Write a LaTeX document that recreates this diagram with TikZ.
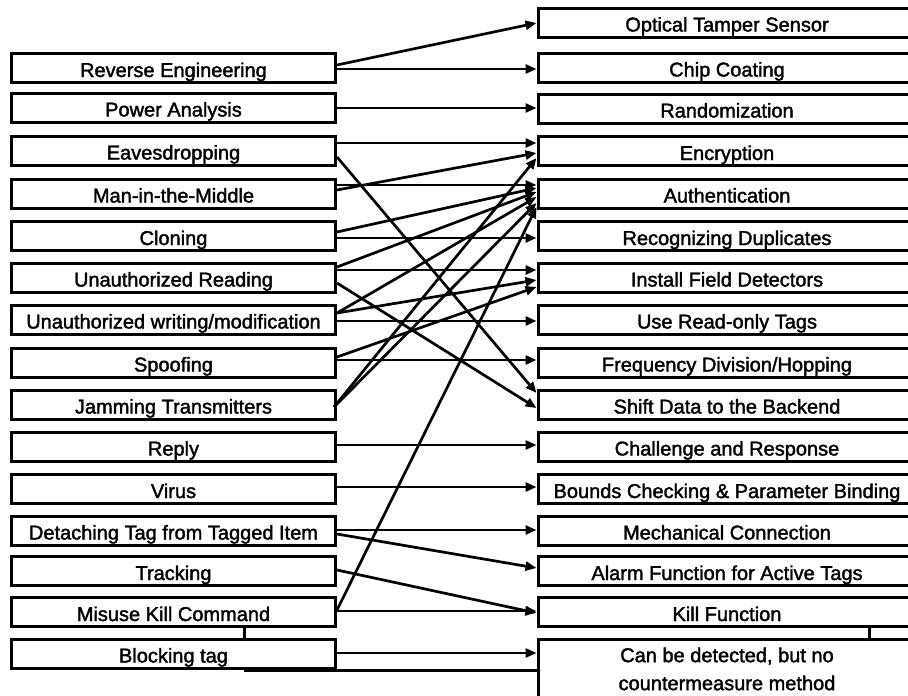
\documentclass[tikz,border=0pt]{standalone}
\usepackage{fontspec}
\setmainfont{Liberation Sans}
\newfontfamily\boxfont[UprightFeatures={FakeBold=1.8}]{Liberation Sans}
\usetikzlibrary{arrows.meta,calc}

\tikzset{
  boxtext/.style={font=\boxfont\fontsize{20}{24}\selectfont},
  threat/.style={draw, line width=3pt, minimum width=324pt, minimum height=29pt,
    inner sep=0pt, text height=18pt, text depth=0pt, boxtext},
  measure/.style={draw, line width=3pt, minimum width=378pt, minimum height=29pt,
    inner sep=0pt, text height=18pt, text depth=0pt, boxtext},
  link/.style={line width=2.7pt, -{Triangle[length=11pt,width=9pt]}},
  joint/.style={line width=2.3pt}
}

\begin{document}
\begin{tikzpicture}[x=1pt,y=-1pt]
\useasboundingbox (0,0) rectangle (908,696);

% attacks (left column)
\node[threat] (l1)  at (173.5,68)    {Reverse Engineering};
\node[threat] (l2)  at (173.5,107.5) {Power Analysis};
\node[threat] (l3)  at (173.5,150.5) {Eavesdropping};
\node[threat] (l4)  at (173.5,193.5) {Man-in-the-Middle};
\node[threat] (l5)  at (173.5,236)   {Cloning};
\node[threat] (l6)  at (173.5,277.5) {Unauthorized Reading};
\node[threat] (l7)  at (173.5,319.5) {Unauthorized writing/modification};
\node[threat] (l8)  at (173.5,362.5) {Spoofing};
\node[threat] (l9)  at (173.5,404.5) {Jamming Transmitters};
\node[threat] (l10) at (173.5,446.5) {Reply};
\node[threat] (l11) at (173.5,489)   {Virus};
\node[threat] (l12) at (173.5,530.5) {Detaching Tag from Tagged Item};
\node[threat] (l13) at (173.5,571)   {Tracking};
\node[threat] (l14) at (173.5,612)   {Misuse Kill Command};
\node[threat] (l15) at (173.5,653.5) {Blocking tag};

% countermeasures (right column)
\node[measure] (r1)  at (727,22.5)  {Optical Tamper Sensor};
\node[measure] (r2)  at (727,67.5)  {Chip Coating};
\node[measure] (r3)  at (727,108.5) {Randomization};
\node[measure] (r4)  at (727,151)   {Encryption};
\node[measure] (r5)  at (727,193.5) {Authentication};
\node[measure] (r6)  at (727,236)   {Recognizing Duplicates};
\node[measure] (r7)  at (727,277.5) {Install Field Detectors};
\node[measure] (r8)  at (727,319.5) {Use Read-only Tags};
\node[measure] (r9)  at (727,362.5) {Frequency Division/Hopping};
\node[measure] (r10) at (727,404.5) {Shift Data to the Backend};
\node[measure] (r11) at (727,446.5) {Challenge and Response};
\node[measure] (r12) at (727,489)   {Bounds Checking \& Parameter Binding};
\node[measure] (r13) at (727,530.5) {Mechanical Connection};
\node[measure] (r14) at (727,571)   {Alarm Function for Active Tags};
\node[measure] (r15) at (727,612)   {Kill Function};
\node[measure, minimum height=60pt, text height=, text depth=, align=center,
      font=\boxfont\fontsize{20}{28}\selectfont] (r16) at (727,669)
      {Can be detected, but no\\countermeasure method};

% connectors
\draw[link] ($(l1.east)+(0,-3)$)    -- ($(r1.west)+(0,0.5)$);
\draw[link] ($(l1.east)+(0,1)$)     -- ($(r2.west)+(0,1.5)$);
\draw[link] ($(l2.east)+(0,0.5)$)   -- ($(r3.west)+(0,-0.5)$);
\draw[link] ($(l3.east)+(0,-7.5)$)  -- ($(r4.west)+(0,-8)$);
\draw[link] ($(l3.east)+(0,6.5)$)   -- ($(r10.west)+(0,-11.5)$);
\draw[link] ($(l4.east)+(0,-8.5)$)  -- ($(r5.west)+(0,-8.5)$);
\draw[link] ($(l4.east)+(0,-3.5)$)  -- ($(r4.west)+(0,2)$);
\draw[link] ($(l5.east)+(0,-4)$)    -- ($(r5.west)+(0,-5.5)$);
\draw[link] ($(l5.east)+(0,2)$)     -- ($(r6.west)+(0,2)$);
\draw[link] ($(l6.east)+(0,-10.5)$) -- ($(r5.west)+(0,-1.5)$);
\draw[link] ($(l6.east)+(0,-7.5)$)  -- ($(r7.west)+(0,-7.5)$);
\draw[link] ($(l6.east)+(0,5.5)$)   -- ($(r10.west)+(0,3.5)$);
\draw[link] ($(l7.east)+(0,-6.5)$)  -- ($(r5.west)+(0,3.5)$);
\draw[link] ($(l7.east)+(0,-6.5)$)  -- ($(r7.west)+(0,2.5)$);
\draw[link] ($(l7.east)+(0,1.5)$)   -- ($(r8.west)+(0,1.5)$);
\draw[link] ($(l8.east)+(0,-5.5)$)  -- ($(r7.west)+(0,9.5)$);
\draw[link] ($(l8.east)+(0,-2.5)$)  -- ($(r9.west)+(0,-2.5)$);
\draw[link] ($(l9.east)+(-3,2.5)$)  -- ($(r4.west)+(0,7)$);
\draw[link] ($(l9.east)+(-3,2.5)$)  -- ($(r5.west)+(0,9.5)$);
\draw[link] ($(l10.east)+(0,-1.5)$) -- ($(r11.west)+(0,-1.5)$);
\draw[link] ($(l11.east)+(0,-2)$)   -- ($(r12.west)+(0,-2)$);
\draw[link] ($(l12.east)+(0,-0.5)$) -- ($(r13.west)+(0,-0.5)$);
\draw[link] ($(l12.east)+(0,3.5)$)  -- ($(r14.west)+(0,-3)$);
\draw[link] ($(l13.east)+(0,-1)$)   -- ($(r15.west)+(0,1)$);
\draw[link] ($(l14.east)+(0,-1)$)   -- ($(r15.west)+(0,-1)$);
\draw[link] ($(l14.east)+(0,-2)$)   -- ($(r5.west)+(0,13.5)$);
\draw[link] ($(l15.east)+(0,-0.5)$) -- ($(r16.west)+(0,-16)$);

% joining strokes between the lowest boxes
\draw[joint] ($(l14.south west)+(234.5,0)$) -- ($(l15.north west)+(234.5,0)$);
\coordinate (bt) at ($(l15.south west)+(234,1)$);
\draw[joint] (bt) -- (bt -| r16.west);
\draw[joint] ($(r15.south west)+(333,0)$) -- ($(r16.north west)+(333,0)$);
\end{tikzpicture}
\end{document}
